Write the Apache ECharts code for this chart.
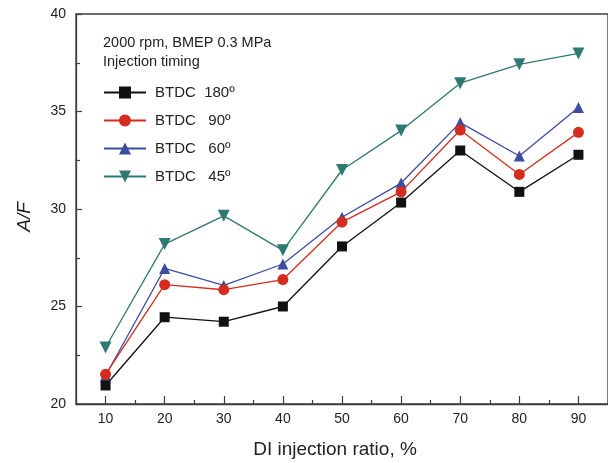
<!DOCTYPE html>
<html>
<head>
<meta charset="utf-8">
<script src="https://cdn.jsdelivr.net/npm/echarts@6/dist/echarts.min.js"></script>
<style>
  html, body { margin: 0; padding: 0; background: #fff; }
  #chart { width: 608px; height: 463px; }
</style>
</head>
<body>
<div id="chart"></div>
<script>
// DI injection ratio (%)
const ratios = [10, 20, 30, 40, 50, 60, 70, 80, 90];
// A/F for each injection timing
const btdc180 = [20.95, 24.45, 24.22, 25.0, 28.08, 30.33, 33.0, 30.88, 32.78];
const btdc90  = [21.52, 26.12, 25.86, 26.38, 29.33, 30.88, 34.05, 31.77, 33.93];
const btdc60  = [21.45, 26.95, 26.08, 27.18, 29.58, 31.33, 34.43, 32.72, 35.2];
const btdc45  = [22.9, 28.2, 29.65, 27.88, 32.0, 34.02, 36.45, 37.42, 37.98];
const seriesNames = ['BTDC  180º', 'BTDC   90º', 'BTDC   60º', 'BTDC   45º'];
const xTickValues = [10, 20, 30, 40, 50, 60, 70, 80, 90];

const FONT = '"Liberation Sans", Arial, Helvetica, sans-serif';
const AXIS = '#3c3c3c';

const pairs = arr => ratios.map((r, i) => [r, arr[i]]);

const chart = echarts.init(document.getElementById('chart'), null, { renderer: 'canvas' });

const lineSeries = (name, data, color, symbol, size, extra) => Object.assign({
  name, type: 'line', data: pairs(data),
  xAxisIndex: 0, yAxisIndex: 0,
  symbol, symbolSize: size,
  lineStyle: { color, width: 1.3 },
  itemStyle: { color, borderWidth: 0 },
  emphasis: { disabled: true },
  animation: false
}, extra || {});

chart.setOption({
  animation: false,
  grid: { left: 76, right: -2, top: 14, bottom: 59, show: true, borderColor: AXIS, borderWidth: 1.3 },
  xAxis: [
    {
      type: 'value', min: 5, max: 95, interval: 5,
      axisLine: { show: true, lineStyle: { color: AXIS, width: 1.3 } },
      axisTick: { show: true, inside: true, length: 8, customValues: xTickValues, lineStyle: { color: AXIS, width: 1.2 } },
      axisLabel: { customValues: xTickValues, color: '#222', fontSize: 14, fontFamily: FONT, margin: 8 },
      splitLine: { show: false }
    },
    {
      type: 'value', min: 5, max: 95, interval: 10, position: 'bottom',
      axisLine: { show: false },
      axisTick: { show: true, inside: true, length: 4, lineStyle: { color: AXIS, width: 1.2 } },
      axisLabel: { show: false },
      splitLine: { show: false }
    }
  ],
  yAxis: {
    type: 'value', min: 20, max: 40, interval: 5,
    axisLine: { show: true, lineStyle: { color: AXIS, width: 1.3 } },
    axisTick: { show: true, inside: true, length: 6, lineStyle: { color: AXIS, width: 1.2 } },
    minorTick: { show: true, splitNumber: 2, length: 4, lineStyle: { color: AXIS, width: 1.2 } },
    axisLabel: { color: '#222', fontSize: 14, fontFamily: FONT, margin: 10 },
    splitLine: { show: false }
  },
  legend: {
    orient: 'vertical', left: 98, top: 80,
    itemWidth: 42, itemHeight: 15, itemGap: 13,
    data: seriesNames,
    textStyle: { color: '#222', fontSize: 15, fontFamily: FONT, padding: [0, 0, 0, 4] },
    selectedMode: false
  },
  graphic: [
    { type: 'text', left: 103, top: 35, style: { text: '2000 rpm, BMEP 0.3 MPa', fill: '#222', font: '14.5px ' + FONT } },
    { type: 'text', left: 103, top: 54, style: { text: 'Injection timing', fill: '#222', font: '14.5px ' + FONT } },
    { type: 'text', x: 335, y: 450, style: { text: 'DI injection ratio, %', fill: '#222', font: '19px ' + FONT, align: 'center', verticalAlign: 'middle' } },
    { type: 'text', x: 25, y: 217, rotation: Math.PI / 2, style: { text: 'A/F', fill: '#222', font: 'italic 19px ' + FONT, align: 'center', verticalAlign: 'middle' } }
  ],
  series: [
    lineSeries(seriesNames[3], btdc45, '#2e7a72', 'triangle', 12, { symbolRotate: 180 }),
    lineSeries(seriesNames[2], btdc60, '#3a4d9e', 'triangle', 11),
    lineSeries(seriesNames[1], btdc90, '#d42c1e', 'circle', 11),
    lineSeries(seriesNames[0], btdc180, '#111111', 'rect', 10)
  ]
});
</script>
</body>
</html>
